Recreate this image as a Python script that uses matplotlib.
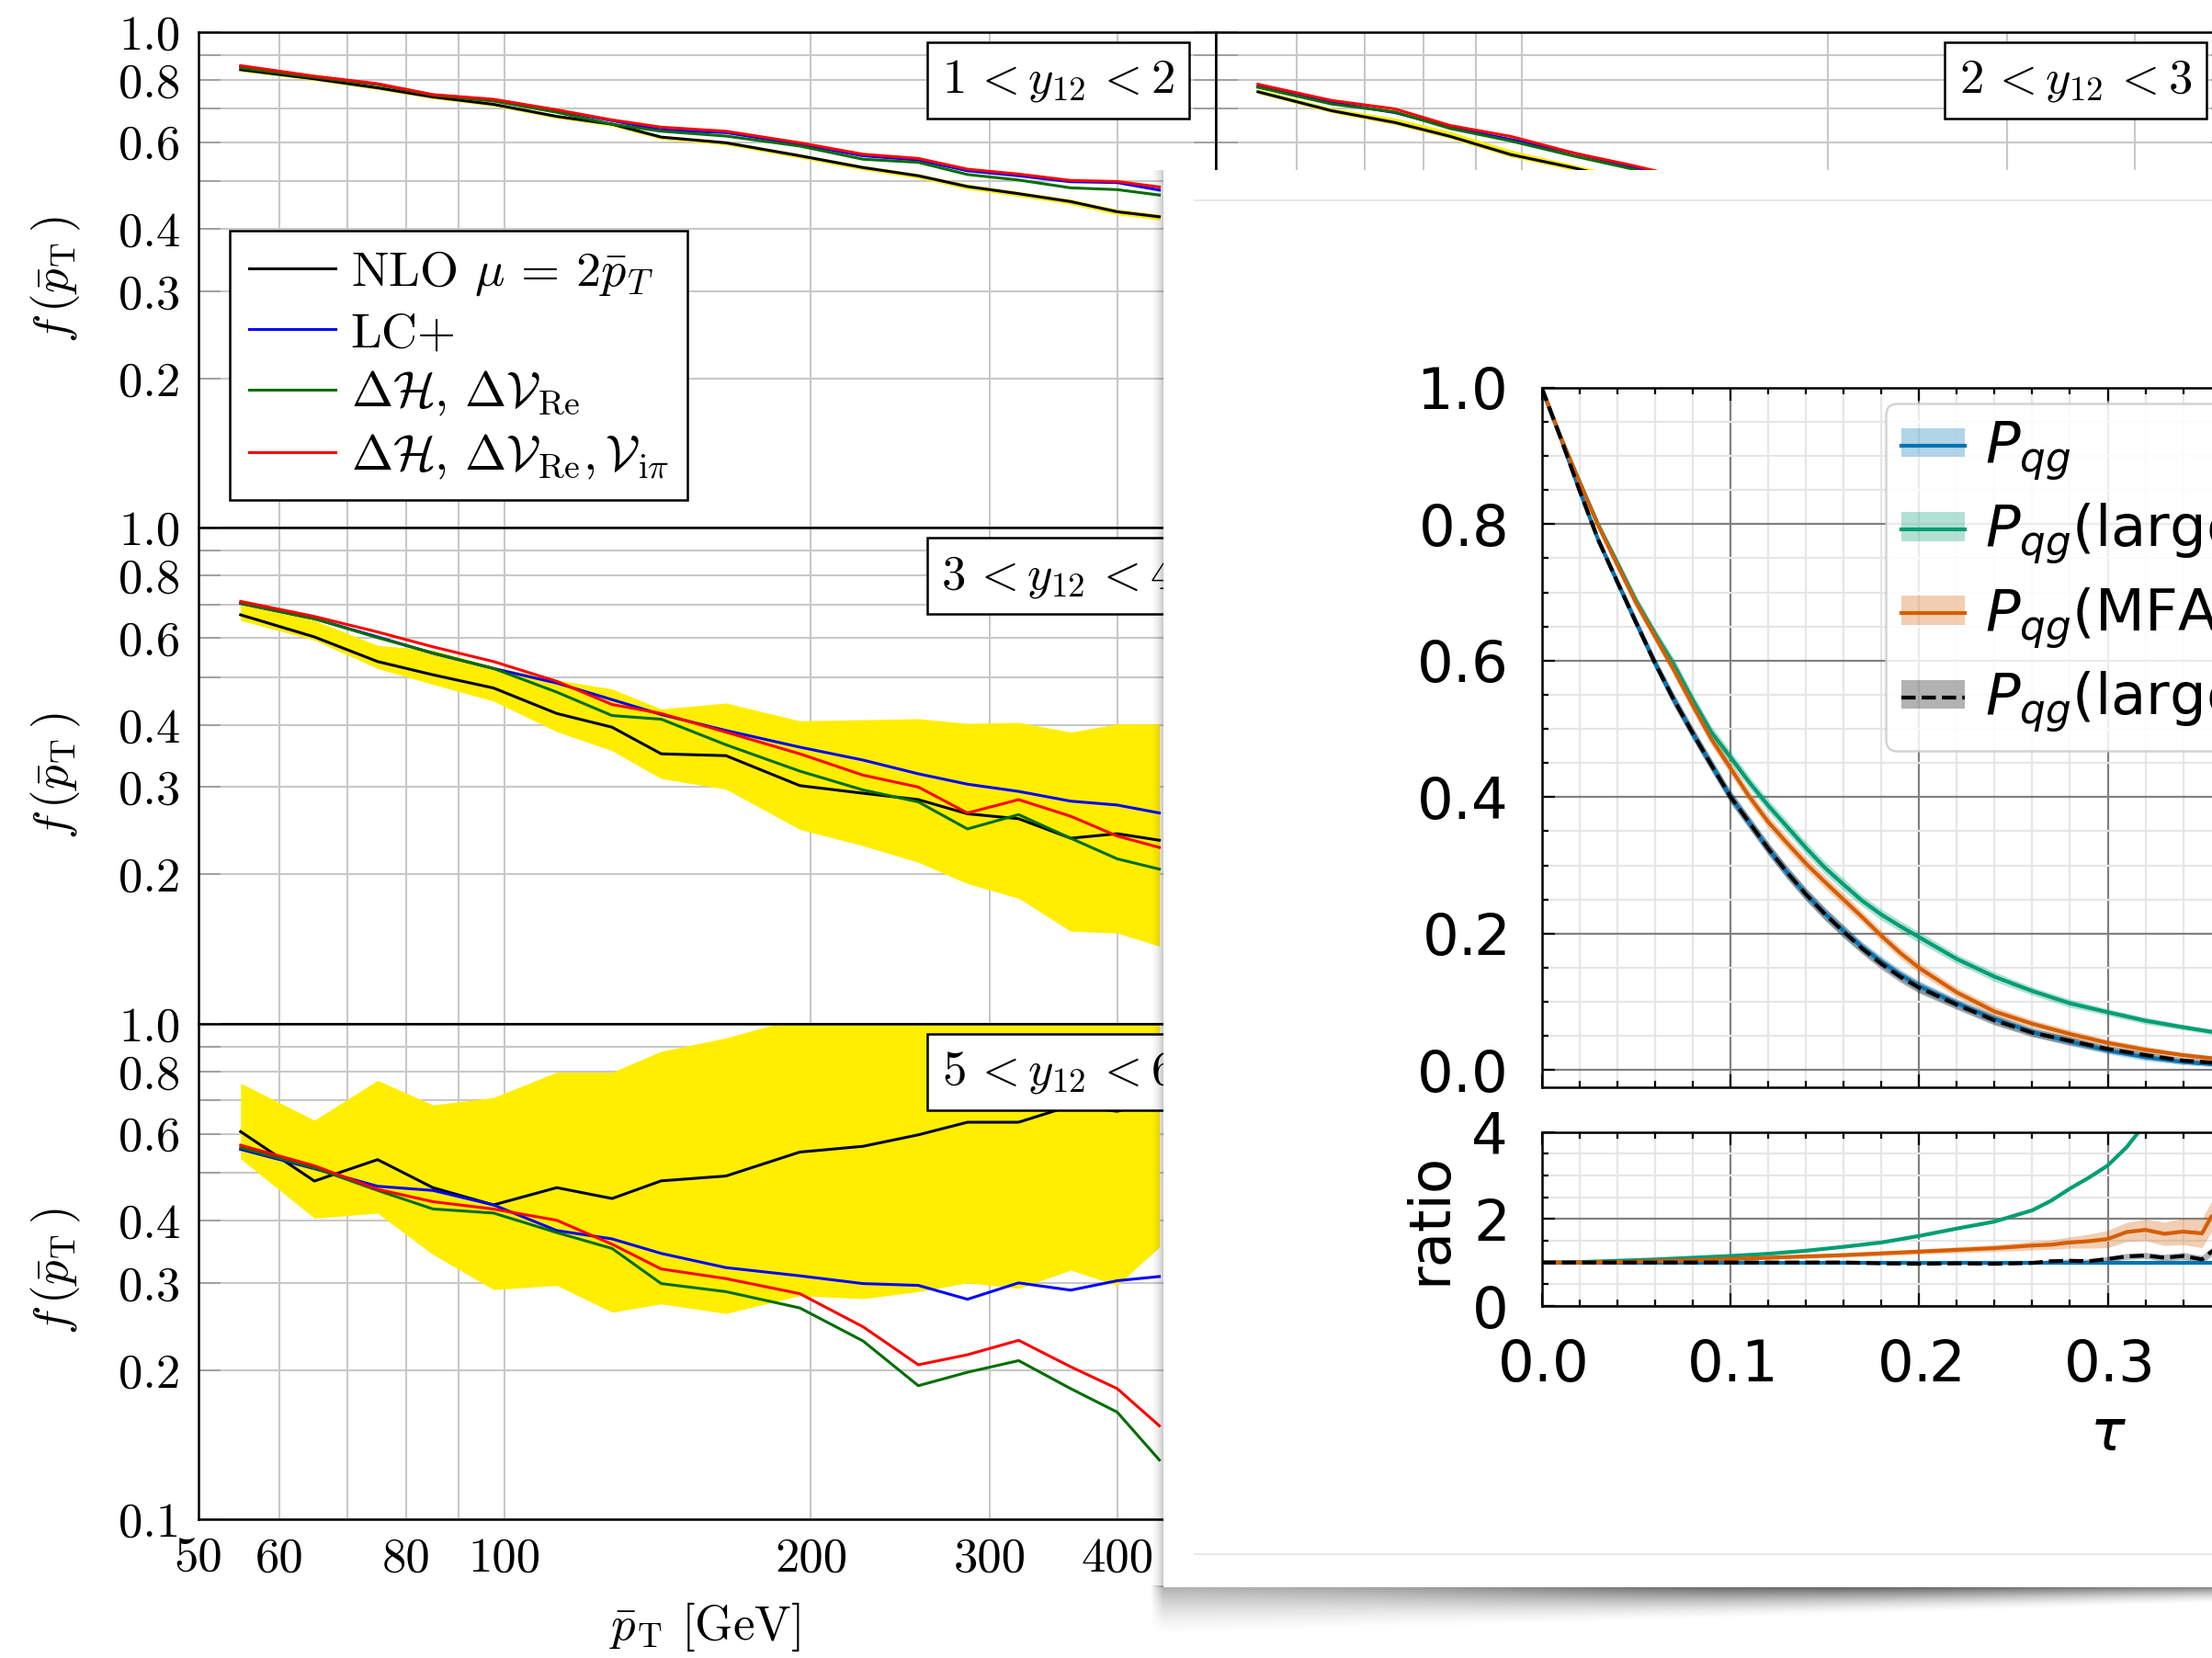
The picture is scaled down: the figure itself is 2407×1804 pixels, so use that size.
import numpy as np
import matplotlib
matplotlib.use('Agg')
import matplotlib.pyplot as plt
from matplotlib.patches import Rectangle, Patch
from matplotlib.lines import Line2D
from matplotlib.font_manager import FontProperties
from matplotlib.ticker import FixedLocator, FixedFormatter, NullLocator, MultipleLocator

# ---------------- background figure data: f(pT) vs pT ----------------
pt_bins = [55, 65, 75, 85, 97.5, 112.5, 127.5, 142.5, 165, 195, 225, 255, 285, 320, 360, 400, 440]
x_ticks = [50, 60, 70, 80, 90, 100, 200, 300, 400, 500]
x_tick_labels = ['50', '60', '', '80', '', '100', '200', '300', '400', '500']
y_ticks = [0.1, 0.2, 0.3, 0.4, 0.5, 0.6, 0.7, 0.8, 0.9, 1.0]
y_tick_labels = ['0.1', '0.2', '0.3', '0.4', '', '0.6', '', '0.8', '', '1.0']
series_labels = [r'NLO $\mu\,=\,2\bar{p}_T$', 'LC+',
                 r'$\Delta\mathcal{H},\,\Delta\mathcal{V}_{\rm Re}$',
                 r'$\Delta\mathcal{H},\,\Delta\mathcal{V}_{\rm Re},\mathcal{V}_{\rm i\pi}$']
panel_titles = [r'$1\,< y_{12}\,< 2$', r'$2\,< y_{12}\,< 3$', r'$3\,< y_{12}\,< 4$', r'$5\,< y_{12}\,< 6$']

# 1 < y12 < 2
tl_nlo = [0.840, 0.805, 0.772, 0.740, 0.715, 0.676, 0.652, 0.614, 0.598, 0.563, 0.533, 0.513, 0.488, 0.472, 0.455, 0.434, 0.424]
tl_lc  = [0.853, 0.813, 0.785, 0.747, 0.730, 0.695, 0.663, 0.635, 0.627, 0.594, 0.563, 0.552, 0.525, 0.513, 0.499, 0.497, 0.480]
tl_dh  = [0.847, 0.811, 0.784, 0.746, 0.726, 0.689, 0.652, 0.631, 0.617, 0.589, 0.554, 0.546, 0.516, 0.503, 0.485, 0.481, 0.469]
tl_dhv = [0.856, 0.815, 0.787, 0.748, 0.732, 0.697, 0.665, 0.643, 0.631, 0.598, 0.567, 0.556, 0.529, 0.517, 0.502, 0.4995, 0.487]
tl_lo  = [0.834, 0.799, 0.766, 0.734, 0.709, 0.670, 0.646, 0.608, 0.592, 0.557, 0.527, 0.507, 0.482, 0.466, 0.449, 0.428, 0.418]
tl_hi  = [0.845, 0.810, 0.777, 0.745, 0.720, 0.681, 0.657, 0.619, 0.603, 0.568, 0.538, 0.518, 0.493, 0.477, 0.460, 0.439, 0.429]

# 2 < y12 < 3 (first bins, the rest is hidden)
tr_nlo = [0.758, 0.694, 0.657, 0.616, 0.566, 0.532, 0.500, 0.478, 0.450, 0.420]
tr_lc  = [0.777, 0.721, 0.688, 0.643, 0.607, 0.570, 0.536, 0.510, 0.480, 0.450]
tr_dh  = [0.774, 0.716, 0.690, 0.639, 0.603, 0.562, 0.531, 0.502, 0.470, 0.440]
tr_dhv = [0.785, 0.728, 0.700, 0.648, 0.616, 0.570, 0.540, 0.512, 0.482, 0.452]
tr_lo  = [0.752, 0.688, 0.651, 0.610, 0.560, 0.526, 0.494, 0.472, 0.444, 0.414]
tr_hi  = [0.768, 0.703, 0.671, 0.630, 0.578, 0.540, 0.510, 0.490, 0.460, 0.430]

# 3 < y12 < 4
mid_nlo = [0.667, 0.602, 0.537, 0.505, 0.475, 0.422, 0.396, 0.350, 0.347, 0.302, 0.2915, 0.283, 0.265, 0.259, 0.2366, 0.2416, 0.2344]
mid_lc  = [0.703, 0.655, 0.602, 0.558, 0.520, 0.486, 0.450, 0.420, 0.390, 0.361, 0.340, 0.319, 0.304, 0.294, 0.281, 0.276, 0.266]
mid_dh  = [0.704, 0.655, 0.600, 0.559, 0.520, 0.466, 0.418, 0.411, 0.365, 0.323, 0.296, 0.280, 0.247, 0.264, 0.2366, 0.215, 0.205]
mid_dhv = [0.710, 0.662, 0.616, 0.575, 0.537, 0.490, 0.440, 0.422, 0.387, 0.350, 0.317, 0.300, 0.266, 0.283, 0.262, 0.239, 0.2267]
mid_lo  = [0.650, 0.593, 0.520, 0.483, 0.447, 0.388, 0.355, 0.312, 0.297, 0.2465, 0.2285, 0.2116, 0.1917, 0.179, 0.1537, 0.1524, 0.1434]
mid_hi  = [0.710, 0.650, 0.579, 0.566, 0.525, 0.493, 0.473, 0.431, 0.443, 0.408, 0.410, 0.412, 0.403, 0.405, 0.387, 0.402, 0.402]

# 5 < y12 < 6
bot_nlo = [0.606, 0.4816, 0.532, 0.467, 0.431, 0.467, 0.444, 0.482, 0.493, 0.551, 0.566, 0.597, 0.633, 0.633, 0.683, 0.666, 0.700]
bot_lc  = [0.558, 0.510, 0.470, 0.461, 0.431, 0.3826, 0.368, 0.344, 0.322, 0.310, 0.299, 0.2965, 0.278, 0.300, 0.290, 0.303, 0.309]
bot_dh  = [0.562, 0.512, 0.461, 0.423, 0.415, 0.379, 0.352, 0.299, 0.288, 0.267, 0.229, 0.186, 0.198, 0.209, 0.1835, 0.1645, 0.1317]
bot_dhv = [0.569, 0.517, 0.4634, 0.4375, 0.4228, 0.4013, 0.359, 0.320, 0.306, 0.2853, 0.2446, 0.205, 0.2148, 0.2297, 0.2031, 0.1835, 0.1544]
bot_lo  = [0.534, 0.4053, 0.4148, 0.3423, 0.2908, 0.2965, 0.2618, 0.272, 0.2602, 0.2826, 0.2788, 0.288, 0.300, 0.2924, 0.3183, 0.2965, 0.3543]
bot_hi  = [0.759, 0.639, 0.769, 0.686, 0.710, 0.799, 0.799, 0.880, 0.937, 1.03, 1.08, 1.12, 1.15, 1.20, 1.20, 1.25, 1.30]

# ---------------- overlay card data: P_qg vs tau ----------------
tau = [0.00, 0.01, 0.02, 0.03, 0.04, 0.05, 0.06, 0.07, 0.08, 0.09, 0.10,
       0.11, 0.12, 0.13, 0.14, 0.15, 0.16, 0.17, 0.18, 0.19, 0.20,
       0.22, 0.24, 0.26, 0.28, 0.30, 0.32, 0.34, 0.36, 0.40, 0.45, 0.50, 0.60]
p_full  = [1.0, 0.927, 0.850, 0.777, 0.716, 0.656, 0.597, 0.543, 0.494, 0.447, 0.401,
           0.363, 0.325, 0.290, 0.258, 0.230, 0.204, 0.180, 0.159, 0.140, 0.123,
           0.098, 0.075, 0.056, 0.042, 0.029, 0.019, 0.012, 0.008, 0.004, 0.002, 0.001, 0.0003]
p_large = [1.0, 0.928, 0.863, 0.799, 0.744, 0.688, 0.640, 0.595, 0.543, 0.495, 0.459,
           0.422, 0.388, 0.357, 0.326, 0.297, 0.272, 0.248, 0.228, 0.211, 0.195,
           0.163, 0.137, 0.116, 0.098, 0.085, 0.0725, 0.063, 0.054, 0.040, 0.028, 0.020, 0.010]
p_mfa   = [1.0, 0.928, 0.862, 0.798, 0.741, 0.685, 0.636, 0.587, 0.535, 0.485, 0.443,
           0.401, 0.364, 0.333, 0.303, 0.276, 0.250, 0.224, 0.197, 0.172, 0.150,
           0.114, 0.086, 0.068, 0.053, 0.040, 0.030, 0.022, 0.016, 0.008, 0.004, 0.002, 0.001]
p_lmfa  = [1.0, 0.927, 0.850, 0.777, 0.716, 0.656, 0.597, 0.543, 0.494, 0.447, 0.401,
           0.363, 0.325, 0.290, 0.258, 0.229, 0.203, 0.178, 0.156, 0.137, 0.121,
           0.096, 0.073, 0.055, 0.043, 0.031, 0.022, 0.014, 0.010, 0.005, 0.002, 0.001, 0.0003]
band_halfwidth = [0.0, 0.004, 0.005, 0.006, 0.007, 0.008, 0.008, 0.009, 0.009, 0.009, 0.009,
                  0.009, 0.009, 0.009, 0.009, 0.009, 0.009, 0.008, 0.008, 0.008, 0.008,
                  0.007, 0.007, 0.006, 0.006, 0.005, 0.005, 0.004, 0.004, 0.003, 0.002, 0.002, 0.001]

r_tau   = [0.00, 0.02, 0.04, 0.06, 0.08, 0.10, 0.12, 0.14, 0.16, 0.18, 0.20, 0.22, 0.24, 0.26,
           0.27, 0.28, 0.29, 0.30, 0.31, 0.32, 0.33, 0.34, 0.35, 0.355, 0.36, 0.40, 0.50, 0.60]
r_full  = [1.0, 1.0, 1.0, 1.0, 1.0, 1.0, 1.0, 1.0, 1.0, 1.0, 1.0, 1.0, 1.0, 1.0,
           1.0, 1.0, 1.0, 1.0, 1.0, 1.0, 1.0, 1.0, 1.0, 1.0, 1.0, 1.0, 1.0, 1.0]
r_large = [1.0, 1.01, 1.04, 1.07, 1.11, 1.15, 1.20, 1.27, 1.36, 1.46, 1.61, 1.78, 1.94, 2.20,
           2.42, 2.70, 2.95, 3.23, 3.65, 4.20, 4.80, 5.50, 6.30, 6.70, 7.00, 10.0, 20.0, 30.0]
r_mfa   = [1.0, 1.00, 1.01, 1.03, 1.05, 1.08, 1.11, 1.14, 1.17, 1.21, 1.25, 1.29, 1.33, 1.39,
           1.41, 1.46, 1.49, 1.54, 1.70, 1.75, 1.66, 1.71, 1.67, 2.06, 2.13, 2.50, 3.00, 3.50]
r_mfa_err = [0.0, 0.01, 0.015, 0.02, 0.025, 0.03, 0.04, 0.045, 0.05, 0.055, 0.06, 0.07, 0.08, 0.10,
             0.11, 0.13, 0.16, 0.20, 0.22, 0.25, 0.27, 0.30, 0.33, 0.35, 0.40, 0.45, 0.50, 0.55]
r_lmfa  = [1.0, 1.0, 1.0, 1.0, 1.0, 1.0, 1.0, 1.0, 1.0, 0.98, 0.97, 0.98, 0.97, 0.99,
           1.03, 1.04, 1.03, 1.08, 1.14, 1.16, 1.11, 1.15, 1.07, 1.25, 1.30, 1.30, 1.40, 1.50]
r_lmfa_err = [0.0, 0.005, 0.005, 0.01, 0.01, 0.01, 0.01, 0.015, 0.015, 0.02, 0.02, 0.02, 0.025, 0.03,
              0.03, 0.04, 0.05, 0.06, 0.07, 0.07, 0.08, 0.08, 0.09, 0.10, 0.10, 0.12, 0.14, 0.16]
card_labels = [r'$P_{qg}$', r'$P_{qg}$(large-$N_c$)', r'$P_{qg}$(MFA)', r'$P_{qg}$(large-$N_c$ MFA)']

# ---------------- styling ----------------
W, H, DPI = 2407, 1804, 100
plt.rcParams['mathtext.fontset'] = 'cm'
plt.rcParams['axes.formatter.use_mathtext'] = True
YELLOW = '#ffee00'
LINE_COLS = ['black', '#0000ff', '#006e00', '#ff0000']
C_BLUE, C_GREEN, C_ORANGE = '#0173b2', '#029e73', '#d55e00'
BG_FS = 38
CARD_FS = 45

fig = plt.figure(figsize=(W / DPI, H / DPI), dpi=DPI)


def px_axes(l, t, r, b, **kw):
    return fig.add_axes([l / W, 1 - b / H, (r - l) / W, (b - t) / H], **kw)


def bg_panel(ax, x, curves, lo, hi, title, show_xlabels, show_01):
    ax.set_xscale('log')
    ax.set_yscale('log')
    ax.fill_between(x, lo, hi, color=YELLOW, lw=0, zorder=1)
    for c, col in zip(curves, LINE_COLS):
        ax.plot(x, c, color=col, lw=2.2, zorder=3)
    ax.set_xlim(50, 500)
    ax.set_ylim(0.1, 1.0)
    ax.xaxis.set_major_locator(FixedLocator(x_ticks))
    ax.xaxis.set_minor_locator(NullLocator())
    ax.xaxis.set_major_formatter(FixedFormatter(x_tick_labels if show_xlabels else [''] * len(x_ticks)))
    ax.yaxis.set_major_locator(FixedLocator(y_ticks))
    ax.yaxis.set_minor_locator(NullLocator())
    ylab = list(y_tick_labels)
    if not show_01:
        ylab[0] = ''
    ax.yaxis.set_major_formatter(FixedFormatter(ylab))
    ax.grid(True, which='major', color='#c8c8c8', lw=1.5)
    ax.set_axisbelow(True)
    ax.tick_params(axis='y', direction='in', length=17, width=1.4, color='#a0a0a0',
                   left=True, right=True, labelsize=BG_FS, pad=14, labelfontfamily='cmr10')
    ax.tick_params(axis='x', length=0, labelsize=BG_FS, pad=14, labelfontfamily='cmr10')
    for s in ax.spines.values():
        s.set_linewidth(1.8)
        s.set_color('black')
    ax.text(0.845, 0.9026, title, transform=ax.transAxes, ha='center', va='center',
            fontsize=BG_FS, zorder=6,
            bbox=dict(boxstyle='square,pad=0.3', fc='white', ec='black', lw=1.8))


ax_tl = px_axes(216, 35, 1323, 574, zorder=0)
ax_tr = px_axes(1323, 35, 2430, 574, zorder=0)
ax_md = px_axes(216, 574, 1323, 1114, zorder=0)
ax_bt = px_axes(216, 1114, 1323, 1653, zorder=0)

bg_panel(ax_tl, pt_bins, [tl_nlo, tl_lc, tl_dh, tl_dhv], tl_lo, tl_hi, panel_titles[0], False, False)
bg_panel(ax_tr, pt_bins[:len(tr_nlo)], [tr_nlo, tr_lc, tr_dh, tr_dhv], tr_lo, tr_hi, panel_titles[1], False, False)
ax_tr.tick_params(axis='y', labelleft=False)
bg_panel(ax_md, pt_bins, [mid_nlo, mid_lc, mid_dh, mid_dhv], mid_lo, mid_hi, panel_titles[2], False, False)
bg_panel(ax_bt, pt_bins, [bot_nlo, bot_lc, bot_dh, bot_dhv], bot_lo, bot_hi, panel_titles[3], True, True)

leg_handles = [Line2D([], [], color=c, lw=2.2) for c in LINE_COLS]
leg = ax_tl.legend(leg_handles, series_labels, loc='upper left',
                   bbox_to_anchor=((250 - 216) / 1107, 1 - (251 - 35) / 539), borderaxespad=0,
                   frameon=True, fancybox=False, edgecolor='black', framealpha=1,
                   prop=FontProperties(family='cmr10', size=39, math_fontfamily='cm'),
                   handlelength=1.75, handletextpad=0.3, borderpad=0.38, labelspacing=0.28)
leg.get_frame().set_linewidth(1.8)
leg.set_zorder(7)

for yc in (304, 844, 1383):
    fig.text(61 / W, 1 - yc / H, r'$f\,(\bar{p}_{\rm T}\,)$', rotation=90, ha='center', va='center',
             fontsize=BG_FS)
fig.text(767 / W, 1 - 1770 / H, r'$\bar{p}_{\rm T}$ [GeV]', ha='center', va='center',
         fontsize=BG_FS, family='cmr10')

# ---------------- card with shadow ----------------
ax_ov = fig.add_axes([0, 0, 1, 1], zorder=5)
ax_ov.axis('off')
ax_ov.patch.set_alpha(0)

card_l, card_t, card_b = 1266, 185, 1727
# bottom drop shadow (style only)
sx0, sy0 = 1245, card_b - 2
xs = np.arange(sx0, W) + 0.5
ys = np.arange(sy0, H) + 0.5
X, Y = np.meshgrid(xs, ys)
depth = 55 - 37 * np.clip((X - card_l) / (W - card_l), 0, 1)
t = np.clip((Y - card_b) / depth, 0, 1)
amp = 0.30 + 0.30 * np.exp(-((X - 1950) / 380.0) ** 2) + 0.12 * np.clip((X - 1950) / 450, 0, 1)
edge = np.clip((X - 1252) / 14, 0, 1)
alpha = amp * (1 - t) ** 1.6 * edge
img = np.zeros(X.shape + (4,))
img[..., 3] = alpha
ax_ov.imshow(img, extent=(sx0, W, H, sy0), aspect='auto', zorder=1, interpolation='bilinear')
# left edge shadow
lx = np.arange(1250, card_l) + 0.5
ly = np.arange(card_t, card_b) + 0.5
LX, LY = np.meshgrid(lx, ly)
limg = np.zeros(LX.shape + (4,))
limg[..., 3] = 0.22 * ((LX - 1250) / (card_l - 1250)) ** 2
ax_ov.imshow(limg, extent=(1250, card_l, card_b, card_t), aspect='auto', zorder=1, interpolation='bilinear')
ax_ov.add_patch(Rectangle((card_l, card_t), W - card_l + 20, card_b - card_t, fc='white', ec='none', zorder=2))
ax_ov.plot([1300, W + 10], [218, 218], color='#e8e8e8', lw=1.5, zorder=3)
ax_ov.plot([1300, W + 10], [1691, 1691], color='#e8e8e8', lw=1.5, zorder=3)
ax_ov.set_xlim(0, W)
ax_ov.set_ylim(H, 0)

ax_m = px_axes(1677.5, 421.7, 1677.5 + 1232, 1183, zorder=10)
ax_r = px_axes(1677.5, 1231.7, 1677.5 + 1232, 1421, zorder=10)

tau_a = np.array(tau)
bw = np.array(band_halfwidth)
series = [(p_full, C_BLUE, '-'), (p_large, C_GREEN, '-'), (p_mfa, C_ORANGE, '-'), (p_lmfa, 'black', '--')]
handles = []
for vals, col, ls in series:
    v = np.array(vals)
    ax_m.fill_between(tau_a, v - bw, v + bw, color=col, alpha=0.3, lw=0)
    ax_m.plot(tau_a, v, color=col, lw=3, ls=ls)
    handles.append((Patch(facecolor=col, alpha=0.3, edgecolor='none'), Line2D([], [], color=col, lw=3, ls=ls)))

rt = np.array(r_tau)
ax_r.fill_between(rt, np.array(r_full) - 0.01, np.array(r_full) + 0.01, color=C_BLUE, alpha=0.3, lw=0)
ax_r.plot(rt, r_full, color=C_BLUE, lw=3)
ax_r.plot(rt, r_large, color=C_GREEN, lw=3)
ax_r.fill_between(rt, np.array(r_mfa) - np.array(r_mfa_err), np.array(r_mfa) + np.array(r_mfa_err),
                  color=C_ORANGE, alpha=0.3, lw=0)
ax_r.plot(rt, r_mfa, color=C_ORANGE, lw=3)
ax_r.fill_between(rt, np.array(r_lmfa) - np.array(r_lmfa_err), np.array(r_lmfa) + np.array(r_lmfa_err),
                  color='black', alpha=0.3, lw=0)
ax_r.plot(rt, r_lmfa, color='black', lw=3, ls='--')

for ax in (ax_m, ax_r):
    ax.set_xlim(0, 0.6)
    ax.xaxis.set_major_locator(MultipleLocator(0.1))
    ax.xaxis.set_minor_locator(MultipleLocator(0.02))
    ax.grid(True, which='major', color='#808080', lw=1.6)
    ax.grid(True, which='minor', color='#e6e6e6', lw=1.6)
    ax.set_axisbelow(True)
    ax.tick_params(which='both', direction='in', top=True, right=True, bottom=True, left=True,
                   labelsize=CARD_FS, width=1.6, labelfontfamily='DejaVu Sans', color='black')
    ax.tick_params(axis='y', which='both', pad=28)
    ax.tick_params(axis='x', which='both', pad=25)
    ax.tick_params(which='major', length=10)
    ax.tick_params(which='minor', length=5)
    for s in ax.spines.values():
        s.set_linewidth(1.8)
ax_m.set_ylim(-0.025, 1.0)
ax_m.yaxis.set_major_locator(MultipleLocator(0.2))
ax_m.yaxis.set_minor_locator(MultipleLocator(0.05))
ax_m.tick_params(labelbottom=False)
ax_r.set_ylim(0, 4)
ax_r.yaxis.set_major_locator(MultipleLocator(2))
ax_r.yaxis.set_minor_locator(MultipleLocator(0.5))

ax_r.set_xlabel(r'$\tau$', fontsize=CARD_FS, family='DejaVu Sans', math_fontfamily='dejavusans')
ax_r.xaxis.set_label_coords(0.5, -0.58)
ax_r.text(-0.0986, 0.5, 'ratio', transform=ax_r.transAxes, rotation=90, ha='center', va='center',
          fontsize=CARD_FS, family='DejaVu Sans')

cleg = ax_m.legend(handles, card_labels, loc='upper left',
                   bbox_to_anchor=((2051.5 - 1677.5) / 1232, 1 - (439.3 - 421.7) / 761.3), borderaxespad=0,
                   prop=FontProperties(family='DejaVu Sans', size=CARD_FS, math_fontfamily='dejavusans'),
                   handlelength=1.1, handleheight=0.4, handletextpad=0.35, borderpad=0.28, labelspacing=0.34,
                   fancybox=True, framealpha=0.85, edgecolor='#cccccc')
cleg.get_frame().set_linewidth(1.8)

fig.savefig('out.png', dpi=DPI)
